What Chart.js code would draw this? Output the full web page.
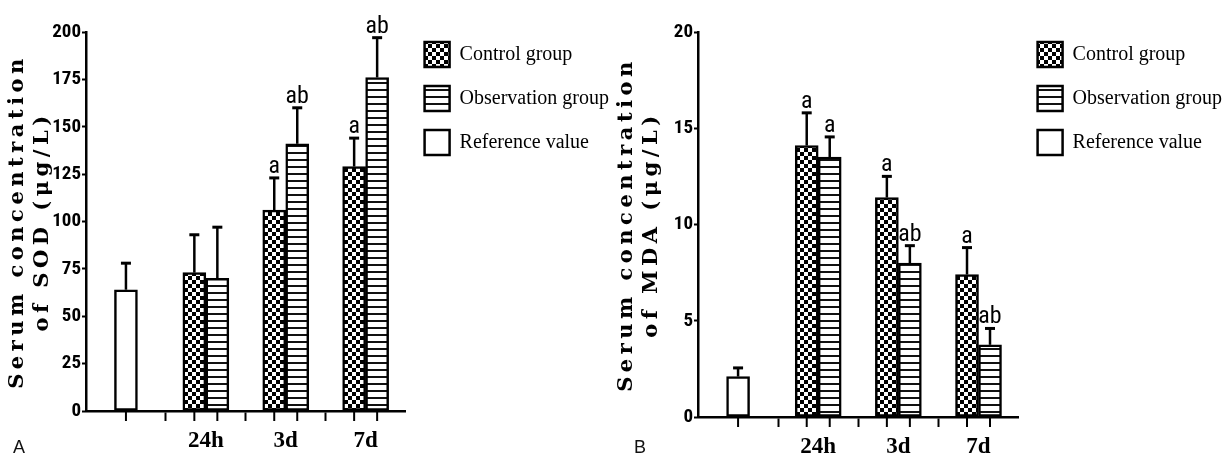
<!DOCTYPE html>
<html>
<head>
<meta charset="utf-8">
<script src="https://cdn.jsdelivr.net/npm/chart.js@4.4.1/dist/chart.umd.min.js"></script>
<style>
    html, body { margin: 0; background: #fff; width: 1230px; height: 461px; overflow: hidden; }
    canvas { position: absolute; top: 0; }
    .letter { position: absolute; top: 437px; font: 18px 'Liberation Sans', Arial, sans-serif; color: #111; }
</style>
</head>
<body>
<canvas id="sodChart" width="619" height="461" style="left:0"></canvas>
<canvas id="mdaChart" width="632" height="461" style="left:600px"></canvas>
<div class="letter" style="left:13px">A</div>
<div class="letter" style="left:634px">B</div>

<script>
const groups = ['', '24h', '3d', '7d'];
const seriesNames = ['Control group', 'Observation group', 'Reference value'];

// panel A - SOD (ug/L)
const sodControl = [null, 73, 106, 129];
const sodControlErr = [null, 20, 17, 15];
const sodControlSig = ['', '', 'a', 'a'];
const sodObs = [null, 70, 141, 176];
const sodObsErr = [null, 27, 19, 21];
const sodObsSig = ['', '', 'ab', 'ab'];
const sodRef = [64, null, null, null];
const sodRefErr = [14, null, null, null];

// panel B - MDA (ug/L)
const mdaControl = [null, 14.1, 11.4, 7.4];
const mdaControlErr = [null, 1.7, 1.1, 1.4];
const mdaControlSig = ['', 'a', 'a', 'a'];
const mdaObs = [null, 13.5, 8.0, 3.75];
const mdaObsErr = [null, 1.05, 0.9, 0.85];
const mdaObsSig = ['', 'a', 'ab', 'ab'];
const mdaRef = [2.1, null, null, null];
const mdaRefErr = [0.45, null, null, null];

const SERIF = "'Liberation Serif', 'Times New Roman', serif";
const WIDE_SERIF = "'DejaVu Serif', 'Liberation Serif', serif";
const NARROW = "'Roboto Condensed', 'Liberation Sans', sans-serif";

function makePattern(kind) {
    const c = document.createElement('canvas');
    const g = c.getContext('2d');
    if (kind === 'checker') {
        c.width = 8; c.height = 8;
        g.fillStyle = '#fff';
        g.fillRect(0, 0, 8, 8);
        g.fillStyle = '#000';
        g.fillRect(0, 0, 4, 4);
        g.fillRect(4, 4, 4, 4);
    } else {
        c.width = 4; c.height = 7;
        g.fillStyle = '#fff';
        g.fillRect(0, 0, 4, 7);
        g.fillStyle = '#111';
        g.fillRect(0, 5, 4, 2);
    }
    return g.createPattern(c, 'repeat');
}

// error bar (upper half only) + significance letters + tick under each bar
const errorBars = {
    id: 'errorBars',
    afterDatasetsDraw(chart) {
        const ctx = chart.ctx;
        const y = chart.scales.y;
        const bottom = chart.chartArea.bottom;
        chart.data.datasets.forEach((ds, i) => {
            chart.getDatasetMeta(i).data.forEach((bar, j) => {
                const v = ds.data[j];
                if (v === null) return;
                const top = y.getPixelForValue(v + ds.errors[j]);
                ctx.save();
                ctx.strokeStyle = '#000';
                ctx.lineWidth = 2.5;
                ctx.beginPath();
                ctx.moveTo(bar.x, bar.y);
                ctx.lineTo(bar.x, top);
                ctx.stroke();
                ctx.lineWidth = 3;
                ctx.beginPath();
                ctx.moveTo(bar.x - 5, top);
                ctx.lineTo(bar.x + 5, top);
                ctx.stroke();
                if (ds.marks[j]) {
                    ctx.fillStyle = '#000';
                    ctx.font = '24px ' + NARROW;
                    ctx.textAlign = 'center';
                    ctx.textBaseline = 'alphabetic';
                    ctx.fillText(ds.marks[j], bar.x, top - 5);
                }
                ctx.lineWidth = 2;
                ctx.beginPath();
                ctx.moveTo(bar.x, bottom);
                ctx.lineTo(bar.x, bottom + 10);
                ctx.stroke();
                ctx.restore();
            });
        });
    }
};

// axis title is letter-spaced in the figure
const spacedTitle = {
    id: 'spacedTitle',
    beforeDraw(chart) {
        const scale = chart.scales.y;
        if (scale.$spaced) return;
        const drawTitle = scale.drawTitle;
        scale.drawTitle = function () {
            this.ctx.save();
            this.ctx.letterSpacing = '4.5px';
            drawTitle.apply(this, arguments);
            this.ctx.restore();
        };
        scale.$spaced = true;
    }
};

function buildChart(id, cfg) {
    const common = { borderColor: '#000', borderWidth: 2.5, borderSkipped: false, barThickness: 23, skipNull: true };
    return new Chart(document.getElementById(id), {
        type: 'bar',
        data: {
            labels: groups,
            datasets: [
                { label: seriesNames[0], data: cfg.control, errors: cfg.controlErr, marks: cfg.controlSig, backgroundColor: makePattern('checker'), ...common },
                { label: seriesNames[1], data: cfg.obs, errors: cfg.obsErr, marks: cfg.obsSig, backgroundColor: makePattern('lines'), ...common },
                { label: seriesNames[2], data: cfg.ref, errors: cfg.refErr, marks: ['', '', '', ''], backgroundColor: '#fff', ...common }
            ]
        },
        options: {
            responsive: false,
            animation: false,
            layout: { padding: { top: 32, left: 0, right: 0, bottom: 0 } },
            plugins: {
                tooltip: { enabled: false },
                legend: {
                    position: 'right',
                    align: 'start',
                    maxWidth: 320,
                    // empty title only used to lift the items a little
                    title: { display: true, text: '', padding: { top: -10, bottom: 0 }, font: { size: 1, lineHeight: 1 } },
                    labels: {
                        boxWidth: 25,
                        boxHeight: 25,
                        padding: 19,
                        color: '#000',
                        font: { family: SERIF, size: 20 }
                    }
                }
            },
            scales: {
                x: {
                    afterFit: (s) => { s.height = cfg.xHeight; },
                    border: { color: '#000', width: 2.5 },
                    grid: {
                        offset: true,
                        drawOnChartArea: false,
                        tickLength: 10,
                        tickWidth: 2,
                        tickColor: (c) => (c.type !== 'tick' || c.index === 0) ? 'rgba(0,0,0,0)' : '#000'
                    },
                    ticks: {
                        color: '#000',
                        padding: 6,
                        maxRotation: 0,
                        font: { family: SERIF, size: 23, weight: 'bold' }
                    }
                },
                y: {
                    min: 0,
                    max: cfg.max,
                    afterFit: (s) => { s.width = cfg.yWidth; },
                    border: { color: '#000', width: 2.5 },
                    grid: { drawOnChartArea: false, tickLength: 4, tickWidth: 2, tickColor: '#000' },
                    ticks: {
                        stepSize: cfg.step,
                        color: '#000',
                        padding: 1,
                        font: { family: NARROW, size: 19, weight: 'bold' }
                    },
                    title: {
                        display: true,
                        text: cfg.title,
                        color: '#000',
                        padding: { top: cfg.titlePad, bottom: 0 },
                        font: { family: WIDE_SERIF, size: 21, weight: 'bold', lineHeight: '25px' }
                    }
                }
            }
        },
        plugins: [errorBars, spacedTitle]
    });
}

buildChart('sodChart', {
    control: sodControl, controlErr: sodControlErr, controlSig: sodControlSig,
    obs: sodObs, obsErr: sodObsErr, obsSig: sodObsSig,
    ref: sodRef, refErr: sodRefErr,
    max: 200, step: 25,
    title: ['Serum concentration', 'of SOD (\u03bcg/L)'],
    titlePad: 5, yWidth: 86, xHeight: 50
});

buildChart('mdaChart', {
    control: mdaControl, controlErr: mdaControlErr, controlSig: mdaControlSig,
    obs: mdaObs, obsErr: mdaObsErr, obsSig: mdaObsSig,
    ref: mdaRef, refErr: mdaRefErr,
    max: 20, step: 5,
    title: ['Serum concentration', 'of MDA (\u03bcg/L)'],
    titlePad: 14, yWidth: 98, xHeight: 44
});
</script>
</body>
</html>
